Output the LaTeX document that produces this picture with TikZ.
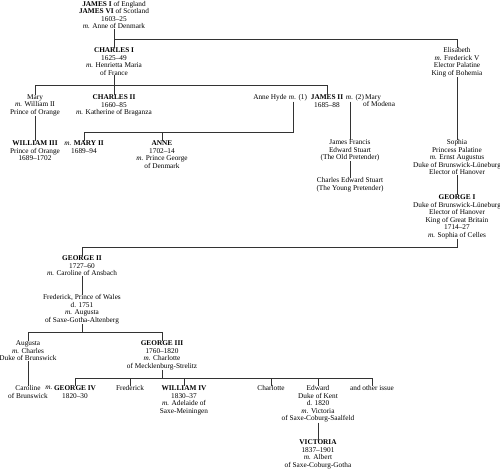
\documentclass[tikz,border=0pt]{standalone}
\usepackage{fontspec}
\setmainfont{Liberation Serif}
\begin{document}
\begin{tikzpicture}[x=1pt,y=-1pt,
  person/.style={anchor=north, inner sep=0pt, align=center, font=\fontsize{7.3}{7.5}\selectfont, text=black},
  link/.style={line width=0.6pt, draw=black!80}]
\useasboundingbox (0,0) rectangle (500,469);
% bar levels
\coordinate (bar1) at (0,39);
\coordinate (bar2) at (0,85);
\coordinate (bar3) at (0,132);
\coordinate (bar4) at (0,247);
\coordinate (bar5) at (0,332);
\coordinate (bar6) at (0,378);
% people
\node[person] (james1) at (114,1) {\textbf{JAMES I} of England\\\textbf{JAMES VI} of Scotland\\1603--25\\\emph{m.} Anne of Denmark};
\node[person] (charles1) at (114,47.5) {\textbf{CHARLES I}\\1625--49\\\emph{m.} Henrietta Maria\\of France};
\node[person] (elisabeth) at (457,47.5) {Elisabeth\\\emph{m.} Frederick V\\Elector Palatine\\King of Bohemia};
\node[person] (mary) at (35,94.5) {Mary\\\emph{m.} William II\\Prince of Orange};
\node[person] (charles2) at (114,94.5) {\textbf{CHARLES II}\\1660--85\\\emph{m.} Katherine of Braganza};
\node[person] (annehyde) at (270,94.5) {Anne Hyde};
\node[person] (m1) at (298,94.5) {\emph{m.} (1)};
\node[person] (james2) at (327,94.5) {\textbf{JAMES II}\\1685--88};
\node[person] (m2) at (355,94.5) {\emph{m.} (2)};
\node[person, anchor=north west, align=left] (modena) at (363,94.5) {\hspace*{2pt}Mary\\of Modena};
\node[person] (william3) at (35,140.5) {\textbf{WILLIAM III}\\Prince of Orange\\1689--1702};
\node[person] (mary2) at (84,140.5) {\emph{m.} \textbf{MARY II}\\1689--94};
\node[person] (anne) at (162,140.5) {\textbf{ANNE}\\1702--14\\\emph{m.} Prince George\\of Denmark};
\node[person] (jamesfrancis) at (350,139.5) {James Francis\\Edward Stuart\\(The Old Pretender)};
\node[person] (charlesedward) at (350,177.5) {Charles Edward Stuart\\(The Young Pretender)};
\node[person] (sophia) at (457,139.5) {Sophia\\Princess Palatine\\\emph{m.} Ernst Augustus\\Duke of Brunswick-Lüneburg\\Elector of Hanover};
\node[person] (george1) at (457,194.5) {\textbf{GEORGE I}\\Duke of Brunswick-Lüneburg\\Elector of Hanover\\King of Great Britain\\1714--27\\\emph{m.} Sophia of Celles};
\node[person] (george2) at (82,255.5) {\textbf{GEORGE II}\\1727--60\\\emph{m.} Caroline of Ansbach};
\node[person] (frederick) at (82,294.5) {Frederick, Prince of Wales\\d. 1751\\\emph{m.} Augusta\\of Saxe-Gotha-Altenberg};
\node[person] (augusta) at (28,340.5) {Augusta\\\emph{m.} Charles\\Duke of Brunswick};
\node[person] (george3) at (162,340.5) {\textbf{GEORGE III}\\1760--1820\\\emph{m.} Charlotte\\of Mecklenburg-Strelitz};
\node[person] (caroline) at (28,385.5) {Caroline\\of Brunswick};
\node[person] (mcar) at (49,385.5) {\emph{m.}};
\node[person] (george4) at (75,385.5) {\textbf{GEORGE IV}\\1820--30};
\node[person] (frederickyork) at (130,385.5) {Frederick};
\node[person] (william4) at (184,385.5) {\textbf{WILLIAM IV}\\1830--37\\\emph{m.} Adelaide of\\Saxe-Meiningen};
\node[person] (charlotte) at (271,385.5) {Charlotte};
\node[person] (edward) at (318,385.5) {Edward\\Duke of Kent\\d. 1820\\\emph{m.} Victoria\\of Saxe-Coburg-Saalfeld};
\node[person] (otherissue) at (372,385.5) {and other issue};
\node[person] (victoria) at (318,439.5) {\textbf{VICTORIA}\\1837--1901\\\emph{m.} Albert\\of Saxe-Coburg-Gotha};
% connectors
\draw[link] (james1.south) -- (charles1.north);
\draw[link] (charles1.north |- bar1) -| (elisabeth.north);
\draw[link] (charles1.south) -- (charles2.north);
\draw[link] (mary.north) |- (james2.north |- bar2) -- (james2.north);
\draw[link] (elisabeth.south) -- (sophia.north);
\draw[link] (sophia.south) -- (george1.north);
\draw[link] (mary.south) -- (william3.north);
\draw[link] ([xshift=-5.1pt]m1.south) |- (mary2.north |- bar3) -- (mary2.north);
\draw[link] (anne.north) -- (anne.north |- bar3);
\draw[link] (jamesfrancis.north |- m2.south) -- (jamesfrancis.north);
\draw[link] (jamesfrancis.south) -- (charlesedward.north);
\draw[link] (george1.south) |- (george2.north |- bar4) -- (george2.north);
\draw[link] (george2.south) -- (frederick.north);
\draw[link] (frederick.south) -- (frederick.south |- bar5);
\draw[link] (augusta.north) |- (george3.north |- bar5) -- (george3.north);
\draw[link] (augusta.south) -- (caroline.north);
\draw[link] (george3.south) -- (george3.south |- bar6);
\draw[link] (george4.north) |- (otherissue.north |- bar6) -- (otherissue.north);
\draw[link] (frederickyork.north) -- (frederickyork.north |- bar6);
\draw[link] (william4.north) -- (william4.north |- bar6);
\draw[link] (charlotte.north) -- (charlotte.north |- bar6);
\draw[link] (edward.north) -- (edward.north |- bar6);
\draw[link] (edward.south) -- (victoria.north);
\end{tikzpicture}
\end{document}
